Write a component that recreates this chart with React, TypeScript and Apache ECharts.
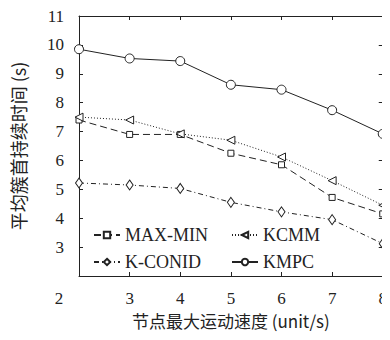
import React, { useEffect, useRef } from "react";
import * as echarts from "echarts";

const xValues = [2, 3, 4, 5, 6, 7, 8];
const maxMin = [7.4, 6.9, 6.9, 6.25, 5.85, 4.72, 4.15];
const kcmm = [7.5, 7.4, 6.92, 6.7, 6.12, 5.3, 4.45];
const kconid = [5.22, 5.15, 5.03, 4.55, 4.22, 3.95, 3.12];
const kmpc = [9.85, 9.53, 9.44, 8.62, 8.45, 7.74, 6.92];

const seriesNames = ["MAX-MIN", "KCMM", "K-CONID", "KMPC"];
const xTitle = "节点最大运动速度 (unit/s)";
const yTitle = "平均簇首持续时间 (s)";

const serif = "Liberation Serif, DejaVu Serif, serif";
const cjk = "Noto Sans CJK SC";
const ink = "#222";

function pairs(ys: number[]) {
  return xValues.map((x, i) => [x, ys[i]]);
}

export default function App() {
  const ref = useRef<HTMLDivElement>(null);
  useEffect(() => {
    if (!ref.current) return;
    const chart = echarts.init(ref.current, undefined, { renderer: "svg" });
    const mk = (name: string, data: number[], symbol: string, size: any, type: any, rotate = 0) => ({
      name,
      type: "line",
      data: pairs(data),
      symbol,
      symbolSize: size,
      symbolRotate: rotate,
      showSymbol: true,
      lineStyle: { color: ink, width: 1, type },
      itemStyle: { color: "#fff", borderColor: ink, borderWidth: 1 },
      emphasis: { disabled: true },
      z: 3,
    });
    const legendBase = {
      orient: "vertical",
      top: 221,
      itemGap: 9,
      itemWidth: 26,
      itemHeight: 8,
      textStyle: { fontFamily: serif, fontSize: 18, color: ink },
    };
    chart.setOption({
      animation: false,
      backgroundColor: "#fff",
      grid: { left: 79, top: 16, right: 1, bottom: 64 },
      legend: [
        { ...legendBase, data: ["MAX-MIN", "K-CONID"], left: 88 },
        { ...legendBase, data: ["KCMM", "KMPC"], left: 226 },
      ],
      xAxis: [
        {
          type: "value",
          min: 2,
          max: 8,
          interval: 1,
          name: xTitle,
          nameLocation: "middle",
          nameGap: 35,
          nameTextStyle: { fontFamily: cjk, fontSize: 17, color: ink },
          axisLine: { lineStyle: { color: ink, width: 1 } },
          axisTick: { inside: true, length: 4, lineStyle: { color: ink } },
          splitLine: { show: false },
          axisLabel: {
            margin: 14,
            fontFamily: serif,
            fontSize: 17,
            color: ink,
            formatter: (v: number) => (v === 2 ? "{a|2}" : String(v)),
            rich: { a: { fontFamily: serif, fontSize: 17, color: ink, padding: [0, 40, 0, 0] } },
          },
        },
        {
          type: "value",
          position: "top",
          min: 2,
          max: 8,
          interval: 1,
          axisLine: { show: true, lineStyle: { color: ink, width: 1 } },
          axisTick: { show: true, inside: true, length: 4, lineStyle: { color: ink } },
          axisLabel: { show: false },
          splitLine: { show: false },
        },
      ],
      yAxis: [
        {
          type: "value",
          min: 2,
          max: 11,
          interval: 1,
          name: yTitle,
          nameLocation: "middle",
          nameGap: 52,
          nameRotate: 90,
          nameTextStyle: { fontFamily: cjk, fontSize: 18, color: ink },
          axisLine: { show: true, lineStyle: { color: ink, width: 1 } },
          axisTick: { show: true, inside: true, length: 4, lineStyle: { color: ink } },
          splitLine: { show: false },
          axisLabel: {
            margin: 15,
            fontFamily: serif,
            fontSize: 17,
            color: ink,
            formatter: (v: number) => (v === 2 ? "" : String(v)),
          },
        },
        {
          type: "value",
          position: "right",
          min: 2,
          max: 11,
          interval: 1,
          axisLine: { show: true, lineStyle: { color: ink, width: 1 } },
          axisTick: { show: true, inside: true, length: 4, lineStyle: { color: ink } },
          axisLabel: { show: false },
          splitLine: { show: false },
        },
      ],
      series: [
        mk(seriesNames[0], maxMin, "rect", 6, [7, 4]),
        mk(seriesNames[1], kcmm, "triangle", 8, [1, 2], 90),
        mk(seriesNames[2], kconid, "diamond", [7, 10], [5, 3, 1, 3]),
        mk(seriesNames[3], kmpc, "circle", 9, "solid"),
      ],
    });
    return () => chart.dispose();
  }, []);
  return <div ref={ref} style={{ width: 390, height: 340, margin: -8 }} />;
}
